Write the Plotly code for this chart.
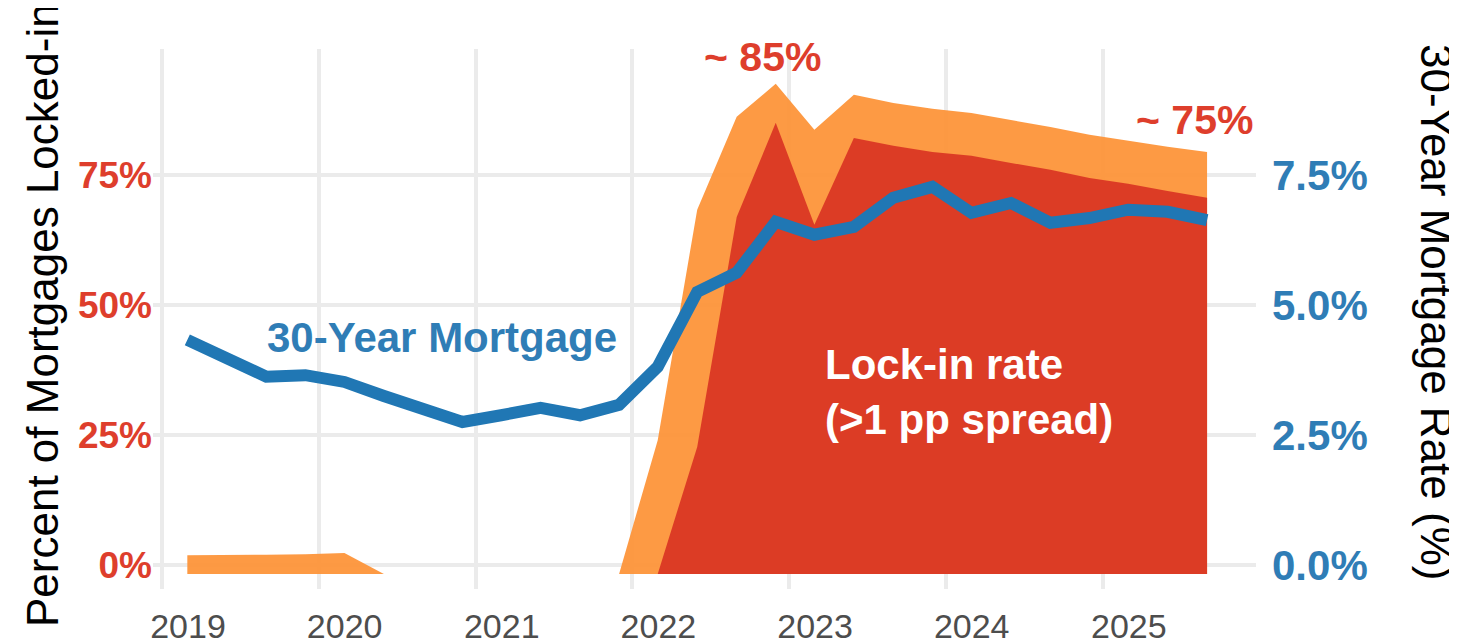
import plotly.graph_objects as go

# ---- data (quarterly) ----
dates = [
    "2019-03-01", "2019-06-01", "2019-09-01", "2019-12-01",
    "2020-03-01", "2020-06-01", "2020-09-01", "2020-12-01",
    "2021-03-01", "2021-06-01", "2021-09-01", "2021-12-01",
    "2022-03-01", "2022-06-01", "2022-09-01", "2022-12-01",
    "2023-03-01", "2023-06-01", "2023-09-01", "2023-12-01",
    "2024-03-01", "2024-06-01", "2024-09-01", "2024-12-01",
    "2025-03-01", "2025-06-01", "2025-09-01",
]
baseline_value = -1.7
# share of mortgages with any positive spread (orange)
locked_any = [
    1.9, 1.9, 2.0, 2.1,
    2.3, -1.7, -1.7, -1.7,
    -1.7, -1.7, -1.7, -1.7,
    24.0, 68.3, 86.2, 92.5,
    83.7, 90.4, 88.8, 87.7,
    86.9, 85.6, 84.2, 82.7,
    81.5, 80.4, 79.4,
]
# share with > 1 pp spread (red)
locked_1pp = [
    -1.7, -1.7, -1.7, -1.7,
    -1.7, -1.7, -1.7, -1.7,
    -1.7, -1.7, -1.7, -1.7,
    -1.7, 22.7, 66.9, 85.0,
    65.4, 82.1, 80.6, 79.4,
    78.7, 77.3, 76.0, 74.4,
    73.3, 71.9, 70.6,
]
# 30-year mortgage rate (%)
mortgage_rate = [
    4.33, 3.98, 3.62, 3.65,
    3.52, 3.25, 2.98, 2.75,
    2.88, 3.02, 2.88, 3.08,
    3.81, 5.25, 5.62, 6.60,
    6.35, 6.50, 7.06, 7.27,
    6.77, 6.96, 6.58, 6.67,
    6.83, 6.79, 6.63,
]
left_ticks = [0, 25, 50, 75]
left_tick_text = ["0%", "25%", "50%", "75%"]
right_ticks = [0, 2.5, 5.0, 7.5]
right_tick_text = ["0.0%", "2.5%", "5.0%", "7.5%"]
year_ticks = ["2019-01-01", "2020-01-01", "2021-01-01", "2022-01-01",
              "2023-01-01", "2024-01-01", "2025-01-01"]
year_labels = ["2019", "2020", "2021", "2022", "2023", "2024", "2025"]

FONT = "Liberation Sans, Arial, Helvetica, sans-serif"
ORANGE = "rgba(253,148,56,0.94)"
RED = "rgba(219,56,36,0.96)"
BLUE = "#2077b4"
RED_TXT = "#de3e2c"
BLUE_TXT = "#2f7db6"
GRID = "#ebebeb"

baseline = [baseline_value] * len(dates)

fig = go.Figure()
fig.add_trace(go.Scatter(x=dates, y=baseline, mode="lines", line=dict(width=0),
                         showlegend=False, hoverinfo="skip"))
fig.add_trace(go.Scatter(x=dates, y=locked_any, mode="lines", line=dict(width=0),
                         fill="tonexty", fillcolor=ORANGE, showlegend=False,
                         name="Locked-in (any spread)"))
fig.add_trace(go.Scatter(x=dates, y=baseline, mode="lines", line=dict(width=0),
                         showlegend=False, hoverinfo="skip"))
fig.add_trace(go.Scatter(x=dates, y=locked_1pp, mode="lines", line=dict(width=0),
                         fill="tonexty", fillcolor=RED, showlegend=False,
                         name="Lock-in rate (>1 pp spread)"))
fig.add_trace(go.Scatter(x=dates, y=mortgage_rate, mode="lines", yaxis="y2",
                         line=dict(color=BLUE, width=12), showlegend=False,
                         name="30-Year Mortgage"))

# page body has an 8px margin, so the figure is sized to fit inside the window
fig.update_layout(
    width=1449, height=634,
    margin=dict(l=145, r=201, t=41, b=53, autoexpand=False),
    paper_bgcolor="white", plot_bgcolor="white",
    font=dict(family=FONT),
    xaxis=dict(
        type="date", range=["2018-12-11", "2025-12-24"],
        tickvals=year_ticks, ticktext=year_labels,
        tickfont=dict(size=34, color="#4d4d4d", family=FONT),
        showgrid=True, gridcolor=GRID, gridwidth=4,
        zeroline=False, showline=False, ticks="", automargin=False,
        ticklabelshift=26, ticklabelstandoff=14,
    ),
    yaxis=dict(
        range=[-4.6, 99.2], tickvals=left_ticks, ticktext=left_tick_text,
        tickfont=dict(size=37, color=RED_TXT, family=FONT),
        showgrid=True, gridcolor=GRID, gridwidth=4, automargin=False,
        zeroline=False, showline=False, ticks="", ticklabelstandoff=0,
    ),
    yaxis2=dict(
        overlaying="y", side="right",
        range=[-0.46, 9.92], tickvals=right_ticks, ticktext=right_tick_text,
        tickfont=dict(size=42, color=BLUE_TXT, family=FONT),
        showgrid=False, zeroline=False, showline=False, ticks="",
        automargin=False, ticklabelstandoff=15,
    ),
)
fig.update_yaxes(tickfont_weight="bold")

annotations = [
    dict(text="Percent of Mortgages Locked-in", xref="paper", yref="paper",
         x=(42 - 153) / 1103, y=0.5 + (319 - 315) / 540, textangle=-90,
         xanchor="center", yanchor="middle",
         showarrow=False, font=dict(size=44, color="black", family=FONT)),
    dict(text="30-Year Mortgage Rate (%)", xref="paper", yref="paper",
         x=(1437 - 153) / 1103, y=0.5 + (319 - 312) / 540, textangle=90,
         xanchor="center", yanchor="middle",
         showarrow=False, font=dict(size=44, color="black", family=FONT)),
    dict(text="<b>30-Year Mortgage</b>", x="2020-10-15", y=4.38, xref="x", yref="y2",
         showarrow=False, font=dict(size=42, color=BLUE_TXT, family=FONT)),
    dict(text="<b>Lock-in rate<br>(>1 pp spread)</b>", x="2023-03-20", y=33.3,
         xref="x", yref="y", xanchor="left", align="left", showarrow=False,
         font=dict(size=42, color="white", family=FONT)),
    dict(text="<b>~ 85%</b>", x="2022-11-01", y=97.7, xref="x", yref="y",
         showarrow=False, font=dict(size=41, color=RED_TXT, family=FONT)),
    dict(text="<b>~ 75%</b>", x="2025-08-03", y=85.6, xref="x", yref="y",
         showarrow=False, font=dict(size=41, color=RED_TXT, family=FONT)),
]
fig.update_layout(annotations=annotations)

fig.write_html("out.html")
